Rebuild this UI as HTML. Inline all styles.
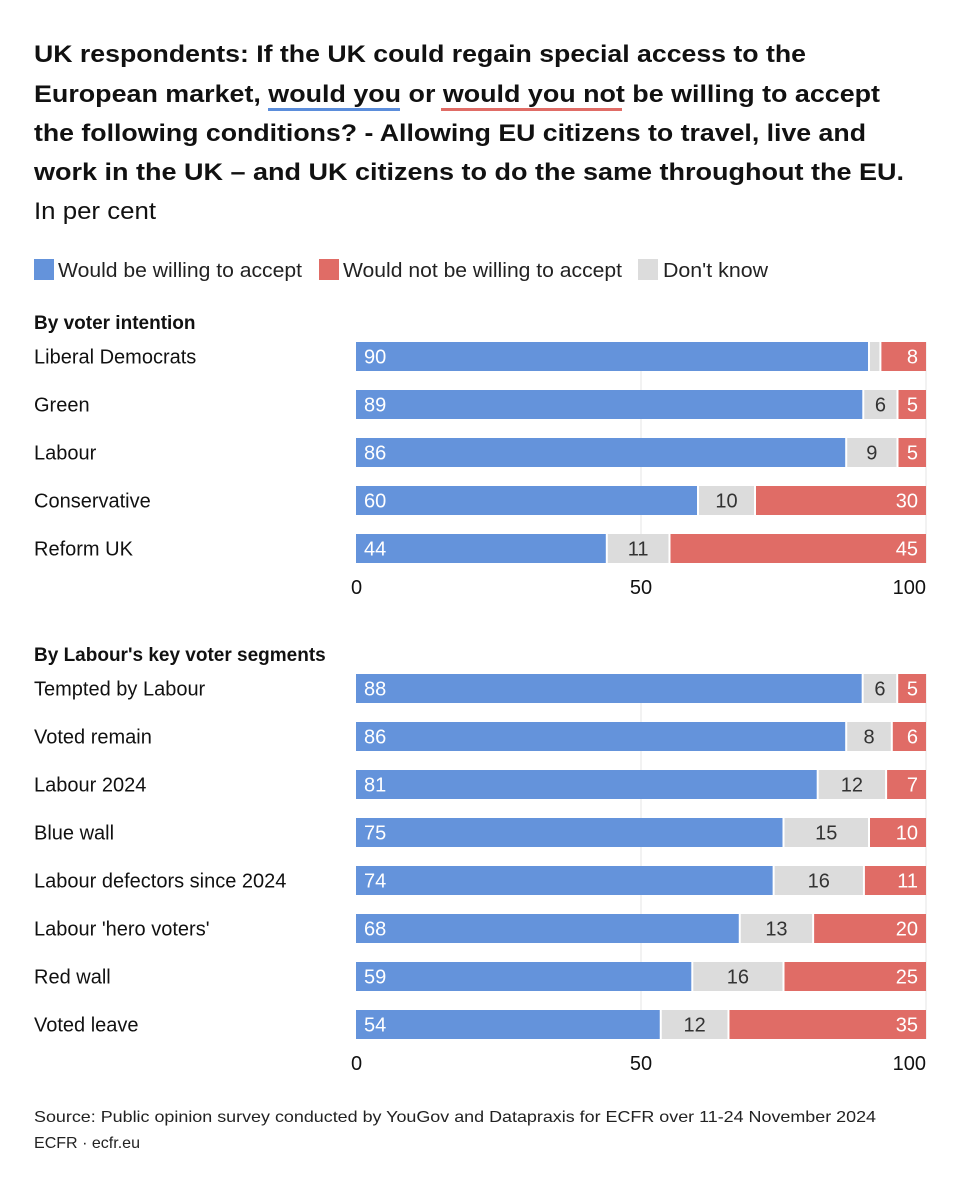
<!DOCTYPE html>
<html><head><meta charset="utf-8"><style>
body{margin:0;background:#fff;width:962px;height:1200px;overflow:hidden}
svg{display:block;font-family:"Liberation Sans",sans-serif}
</style></head><body>
<svg id="chart" width="962" height="1200">
<g font-weight="bold" font-size="24" fill="#111">
<text x="34" y="62" textLength="772" lengthAdjust="spacingAndGlyphs">UK respondents: If the UK could regain special access to the</text>
<text x="34" y="102" textLength="846" lengthAdjust="spacingAndGlyphs">European market, would you or would you not be willing to accept</text>
<text x="34" y="141" textLength="832" lengthAdjust="spacingAndGlyphs">the following conditions? - Allowing EU citizens to travel, live and</text>
<text x="34" y="180" textLength="870" lengthAdjust="spacingAndGlyphs">work in the UK – and UK citizens to do the same throughout the EU.</text>
</g>
<rect x="268" y="108" width="132" height="3" fill="#5b8ddb"/>
<rect x="441" y="108" width="181" height="3" fill="#e06c66"/>
<text x="34" y="219" font-size="24" fill="#111" textLength="122" lengthAdjust="spacingAndGlyphs">In per cent</text>
<g font-size="20" fill="#222">
<rect x="34" y="259" width="20" height="21" fill="#6493db"/>
<text x="58" y="277" textLength="244" lengthAdjust="spacingAndGlyphs">Would be willing to accept</text>
<rect x="319" y="259" width="20" height="21" fill="#e06c66"/>
<text x="343" y="277" textLength="279" lengthAdjust="spacingAndGlyphs">Would not be willing to accept</text>
<rect x="638" y="259" width="20" height="21" fill="#dcdcdc"/>
<text x="663" y="277" textLength="105" lengthAdjust="spacingAndGlyphs">Don't know</text>
</g>
<g id="plots"></g>
<text x="34" y="1122" font-size="16" fill="#222" textLength="842" lengthAdjust="spacingAndGlyphs">Source: Public opinion survey conducted by YouGov and Datapraxis for ECFR over 11-24 November 2024</text>
<text x="34" y="1148" font-size="16" fill="#222" textLength="106" lengthAdjust="spacingAndGlyphs">ECFR · ecfr.eu</text>
</svg>
<script>
const cats1=["Liberal Democrats","Green","Labour","Conservative","Reform UK"];
const willing1=[90,89,86,60,44];
const dk1=[2,6,9,10,11];
const not1=[8,5,5,30,45];
const dkLabel1=["","6","9","10","11"];
const cats2=["Tempted by Labour","Voted remain","Labour 2024","Blue wall","Labour defectors since 2024","Labour 'hero voters'","Red wall","Voted leave"];
const willing2=[88,86,81,75,74,68,59,54];
const dk2=[6,8,12,15,16,13,16,12];
const not2=[5,6,7,10,11,20,25,35];
const ticks=[0,50,100];

const NS="http://www.w3.org/2000/svg";
const g=document.getElementById('plots');
const x0=356,x1=926;
const xs=v=>x0+(x1-x0)*v/100;
function el(t,a,p){const e=document.createElementNS(NS,t);for(const k in a)e.setAttribute(k,a[k]);(p||g).appendChild(e);return e;}
function panel(title,cats,w,d,n,dkl,top,name){
  const pg=el('g',{});
  
  
  const h=el('text',{x:34,y:top-13,'font-size':19,'font-weight':'bold',fill:'#111'},pg);h.textContent=title;
  
  
  const bottom=top+cats.length*48;
  ticks.forEach(t=>{if(t>0){const l=el('line',{x1:xs(t),x2:xs(t),y1:top,y2:bottom-19,stroke:'#e6e6e6','stroke-width':1},pg);
    
    }
    const tt=el('text',{x:xs(t),y:bottom+12,'font-size':20,fill:'#111','text-anchor':t==0?'start':(t==100?'end':'middle')},pg);tt.textContent=t;
    if(t==0)tt.setAttribute('x',xs(t)-5);
    
    });
  cats.forEach((c,i)=>{
    const y=top+i*48, bh=29, cy=y+bh/2+7;
    const lb=el('text',{x:34,y:cy,'font-size':20,fill:'#111'},pg);lb.textContent=c;
    
    
    const tot=w[i]+d[i]+n[i], k=100/tot;
    const a=w[i]*k,b=d[i]*k,r=n[i]*k;
    const bl=el('rect',{x:xs(0),y:y,width:xs(a)-xs(0)-1,height:bh,fill:'#6493db'},pg);
    
    
    const gr=el('rect',{x:xs(a)+1,y:y,width:Math.max(0,xs(a+b)-xs(a)-2),height:bh,fill:'#dcdcdc'},pg);
    
    
    const rd=el('rect',{x:xs(a+b)+1,y:y,width:Math.max(0,xs(a+b+r)-xs(a+b)-1),height:bh,fill:'#e06c66'},pg);
    
    
    const t1=el('text',{x:xs(0)+8,y:cy,'font-size':20,fill:'#fff'},pg);t1.textContent=w[i];
    
    
    const lab=dkl?dkl[i]:String(d[i]);
    if(lab){const t2=el('text',{x:(xs(a)+xs(a+b))/2,y:cy,'font-size':20,fill:'#333','text-anchor':'middle'},pg);t2.textContent=lab;
      
      }
    const t3=el('text',{x:xs(a+b+r)-8,y:cy,'font-size':20,fill:'#fff','text-anchor':'end'},pg);t3.textContent=n[i];
    
    
  });
}
panel("By voter intention",cats1,willing1,dk1,not1,dkLabel1,342,'voter-intention-panel');
panel("By Labour's key voter segments",cats2,willing2,dk2,not2,null,674,'labour-segments-panel');
</script>
</body></html>
